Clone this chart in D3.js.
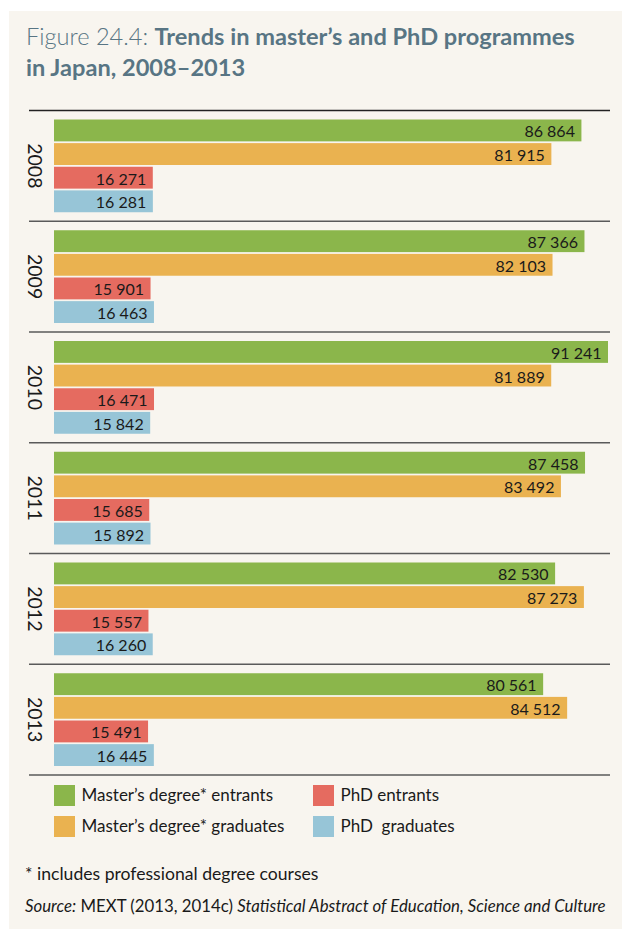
<!DOCTYPE html>
<meta charset="utf-8">
<style>
  body { margin: 0; background: #fff; }
  svg { display: block; font-family: Lato, "Open Sans", sans-serif; }
</style>
<svg id="chart"></svg>
<script src="https://d3js.org/d3.v7.min.js"></script>
<script>

// data
var years = ["2008", "2009", "2010", "2011", "2012", "2013"]
var seriesNames = ["Master’s degree* entrants", "Master’s degree* graduates", "PhD entrants", "PhD  graduates"]
var seriesColors = ["#8bb64b", "#eab250", "#e56b60", "#97c5d7"]
var mastersEntrants = [86864, 87366, 91241, 87458, 82530, 80561]
var mastersGraduates = [81915, 82103, 81889, 83492, 87273, 84512]
var phdEntrants = [16271, 15901, 16471, 15685, 15557, 15491]
var phdGraduates = [16281, 16463, 15842, 15892, 16260, 16445]

var width = 622
var height = 929

var svg = d3.select("#chart")
    .attr("width", width)
    .attr("height", height)

// beige panel
svg.append("rect")
    .attr("x", 9)
    .attr("y", 11)
    .attr("width", width - 9)
    .attr("height", height - 11)
    .attr("fill", "#f8f5ef")

// title
var title = svg.append("text")
    .attr("x", 26)
    .attr("y", 45)
    .attr("fill", "#587584")
    .style("font-size", "23.6px")
title.append("tspan").text("Figure 24.4: ").style("font-weight", 300)
title.append("tspan").text("Trends in master’s and PhD programmes").style("font-weight", 700)
svg.append("text")
    .attr("x", 26)
    .attr("y", 76)
    .attr("fill", "#587584")
    .style("font-size", "23.6px")
    .style("font-weight", 700)
    .text("in Japan, 2008–2013")

// build rows: one per year and series
var rows = []
years.forEach(function(year, i) {
  var vals = [mastersEntrants[i], mastersGraduates[i], phdEntrants[i], phdGraduates[i]]
  vals.forEach(function(v, j) {
    rows.push({ year: year, series: seriesNames[j], color: seriesColors[j], value: v })
  })
})

var y = d3.scaleBand()
    .domain(years)
    .range([110.5, 775])
    .paddingInner(0)

var ySub = d3.scaleBand()
    .domain(seriesNames)
    .range([9, y.bandwidth() - 9])
    .paddingInner(0.075)

var x = d3.scaleLinear()
    .domain([0, d3.max(mastersEntrants)])
    .range([54, 608])

var fmt = d3.formatLocale({ decimal: ".", thousands: " ", grouping: [3], currency: ["", ""] }).format(",d")

// separator lines
var lineYs = years.map(function(d) { return y(d) }).concat([y.range()[1]])
svg.selectAll(".sep")
  .data(lineYs)
  .enter().append("line")
    .attr("class", "sep")
    .attr("x1", 29)
    .attr("x2", 610)
    .attr("y1", function(d) { return d })
    .attr("y2", function(d) { return d })
    .attr("stroke", function(d, i) { return i === 0 ? "#222" : "#5a5a5a" })
    .attr("stroke-width", 1.4)

// year labels, rotated
svg.selectAll(".year")
  .data(years)
  .enter().append("text")
    .attr("class", "year")
    .attr("transform", function(d) { return "translate(35.5," + (y(d) + y.bandwidth() / 2) + ") rotate(90)" })
    .attr("text-anchor", "middle")
    .attr("dominant-baseline", "central")
    .attr("fill", "#1a1a1a")
    .style("font-size", "19.5px")
    .text(function(d) { return d })

// bars
svg.selectAll(".bar")
  .data(rows)
  .enter().append("rect")
    .attr("class", "bar")
    .attr("x", x(0))
    .attr("y", function(d) { return y(d.year) + ySub(d.series) })
    .attr("width", function(d) { return x(d.value) - x(0) })
    .attr("height", ySub.bandwidth())
    .attr("fill", function(d) { return d.color })

// value labels inside bars
svg.selectAll(".val")
  .data(rows)
  .enter().append("text")
    .attr("class", "val")
    .attr("x", function(d) { return x(d.value) - 6.5 })
    .attr("y", function(d) { return y(d.year) + ySub(d.series) + ySub.bandwidth() / 2 + 0.5 })
    .attr("text-anchor", "end")
    .attr("dominant-baseline", "central")
    .attr("fill", "#1a1a1a")
    .style("font-size", "16px")
    .text(function(d) { return fmt(d.value) })

// legend
var legendX = [54, 313]
var legendY = [785, 816]
var legend = svg.selectAll(".legend")
  .data(seriesNames)
  .enter().append("g")
    .attr("class", "legend")
    .attr("transform", function(d, i) {
      return "translate(" + legendX[Math.floor(i / 2)] + "," + legendY[i % 2] + ")"
    })
legend.append("rect")
    .attr("width", 21)
    .attr("height", 21)
    .attr("fill", function(d, i) { return seriesColors[i] })
legend.append("text")
    .attr("x", 27.5)
    .attr("y", 16)
    .attr("fill", "#1a1a1a")
    .style("font-size", "17px")
    .style("white-space", "pre")
    .text(function(d) { return d })

// notes
svg.append("text")
    .attr("x", 25)
    .attr("y", 880)
    .attr("fill", "#1a1a1a")
    .style("font-size", "17.6px")
    .text("* includes professional degree courses")

var src = svg.append("text")
    .attr("x", 25)
    .attr("y", 911.5)
    .attr("fill", "#1a1a1a")
    .style("font-size", "16.8px")
src.append("tspan").text("Source:").style("font-style", "italic")
src.append("tspan").text(" MEXT (2013, 2014c) ")
src.append("tspan").text("Statistical Abstract of Education, Science and Culture").style("font-style", "italic")

</script>
